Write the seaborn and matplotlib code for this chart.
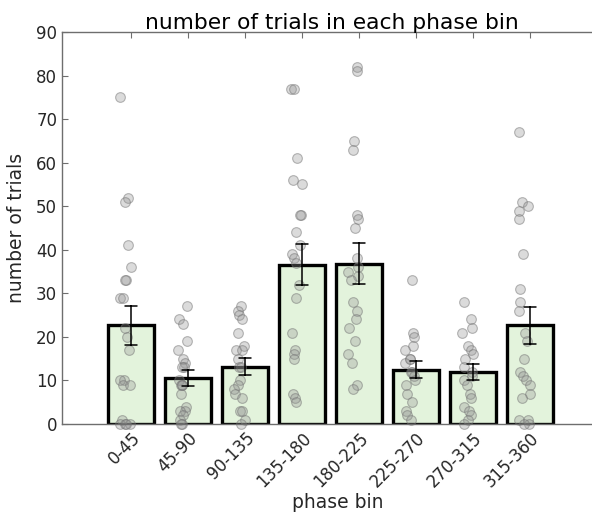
import numpy as np
import pandas as pd
import matplotlib
matplotlib.use("Agg")
import matplotlib.pyplot as plt
import seaborn as sns

# Trials per phase bin, one value per session
bins = ["0-45", "45-90", "90-135", "135-180", "180-225", "225-270", "270-315", "315-360"]
trials_0_45 = [75, 52, 51, 41, 36, 33, 33, 29, 29, 22, 20, 17, 10, 10, 9, 9, 1, 0, 0, 0, 0]
trials_45_90 = [27, 24, 23, 19, 17, 15, 14, 13, 13, 10, 9, 9, 9, 7, 4, 3, 3, 2, 1, 0, 0]
trials_90_135 = [27, 26, 25, 24, 21, 18, 17, 17, 15, 13, 13, 10, 9, 8, 7, 6, 3, 3, 1, 0]
trials_135_180 = [77, 77, 61, 56, 55, 48, 48, 44, 41, 39, 38, 37, 32, 29, 21, 17, 16, 15, 7, 6, 5]
trials_180_225 = [82, 81, 65, 63, 48, 47, 45, 38, 36, 35, 34, 33, 28, 26, 24, 22, 19, 16, 14, 9, 8]
trials_225_270 = [33, 21, 20, 18, 17, 15, 15, 14, 12, 12, 11, 10, 9, 7, 5, 3, 2, 1]
trials_270_315 = [28, 24, 22, 21, 18, 17, 16, 15, 13, 12, 11, 10, 9, 7, 6, 4, 3, 2, 1, 0]
trials_315_360 = [67, 51, 50, 49, 47, 39, 31, 28, 26, 21, 19, 15, 12, 11, 10, 9, 7, 6, 1, 1, 0, 0]

per_bin = [trials_0_45, trials_45_90, trials_90_135, trials_135_180,
           trials_180_225, trials_225_270, trials_270_315, trials_315_360]

df = pd.DataFrame({
    "bin": np.repeat(bins, [len(v) for v in per_bin]),
    "trials": np.concatenate(per_bin),
})

sns.set_theme(style="white")
plt.rcParams["font.family"] = ["DejaVu Sans"]

axis_gray = "#6e6e6e"
text_gray = "#262626"
bar_green = "#e3f3dc"

fig = plt.figure(figsize=(5.92, 5.15), dpi=100)
ax = fig.add_axes([62 / 592, 91 / 515, 560 / 592, 392 / 515])

sns.barplot(data=df, x="bin", y="trials", order=bins, errorbar="se",
            color=bar_green, saturation=1, edgecolor="black", linewidth=2.4,
            width=0.8, capsize=0.22,
            err_kws={"color": "black", "linewidth": 1.1}, ax=ax)

n_before = len(ax.collections)
np.random.seed(7)
sns.stripplot(data=df, x="bin", y="trials", order=bins, jitter=0.1,
              size=7, color="gray", linewidth=0.8, ax=ax)
for coll in ax.collections[n_before:]:
    coll.set_offsets(coll.get_offsets() + np.array([-0.1, 0.0]))
    coll.set_facecolor((0.58, 0.58, 0.58, 0.33))
    coll.set_edgecolor((0.45, 0.45, 0.45, 0.5))
    coll.set_clip_on(False)
    coll.set_zorder(1.5)

# x range chosen so the plot box runs past the right edge of the figure
ax.set_xlim(-1.21, 8.61)
ax.set_ylim(0, 90)
ax.set_yticks(np.arange(0, 91, 10))

for side in ["left", "bottom", "top"]:
    ax.spines[side].set_visible(True)
    ax.spines[side].set_color(axis_gray)
    ax.spines[side].set_linewidth(1.0)
ax.spines["right"].set_visible(False)
ax.spines["right"].set_color("none")

ax.tick_params(axis="both", direction="in", length=4, width=0.8,
               color=axis_gray, labelcolor=text_gray, labelsize=12, pad=3.5)
ax.tick_params(axis="x", top=True, bottom=True)
ax.tick_params(axis="y", left=True, right=False)

ax.set_xticks(range(len(bins)))
ax.set_xticklabels(bins, rotation=45, ha="right", rotation_mode="anchor")

ax.set_xlabel("phase bin", fontsize=13.5, color=text_gray)
ax.xaxis.set_label_coords((338 - 62) / 560, -0.2245)
ax.xaxis.label.set_verticalalignment("bottom")
ax.set_ylabel("number of trials", fontsize=13.5, color=text_gray, labelpad=7)
ax.set_title("number of trials in each phase bin", fontsize=15.7, color="black", pad=2)
ax.title.set_position(((332 - 62) / 560, 1.0))

fig.savefig("out.png", dpi=100)
